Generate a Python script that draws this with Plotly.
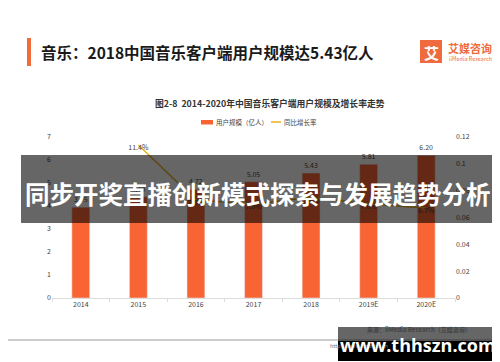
import plotly.graph_objects as go

categories = ["2014", "2015", "2016", "2017", "2018", "2019E", "2020E"]
users = [3.95, 4.40, 4.72, 5.05, 5.43, 5.81, 6.20]
growth = [None, 0.114, 0.073, 0.070, 0.075, 0.070, 0.067]
left_ticks = [0, 1, 2, 3, 4, 5, 6, 7]
right_ticks = [0, 0.02, 0.04, 0.06, 0.08, 0.1, 0.12]
series_names = ["用户规模（亿人）", "同比增长率"]

FONT = "Noto Sans CJK SC"
BAR_COLOR = "#f96434"
LINE_COLOR = "#e8b21e"
W, H = 500, 362
L, R, T, B = 44, 53, 129, 72
PW, PH = W - L - R, H - T - B


def px(x):
    return (x - L) / PW


def py(y):
    return (H - B - y) / PH


fig = go.Figure()
fig.add_trace(go.Bar(
    x=categories, y=users, name=series_names[0],
    marker_color=BAR_COLOR, width=0.31,
    text=[f"{v:.2f}" for v in users], textposition="outside",
    textfont=dict(size=7, color="#444", family=FONT), cliponaxis=False,
))
fig.add_trace(go.Scatter(
    x=categories, y=growth, name=series_names[1], yaxis="y2",
    mode="lines+text", line=dict(color=LINE_COLOR, width=1.5),
    text=[("" if g is None else f"{g*100:.1f}%") for g in growth],
    textposition="bottom center",
    textfont=dict(size=7, color="#444", family=FONT), cliponaxis=False,
))

shapes = [
    dict(type="rect", xref="paper", yref="paper", x0=px(19), x1=px(23), y0=py(30), y1=py(58),
         fillcolor="#f26b3a", line_width=0, layer="above"),
    dict(type="rect", xref="paper", yref="paper", x0=px(412), x1=px(434), y0=py(32), y1=py(55),
         fillcolor="#ef6a3c", line_width=0, layer="above"),
    # legend keys
    dict(type="rect", xref="paper", yref="paper", x0=px(193), x1=px(205), y0=py(112), y1=py(116.5),
         fillcolor=BAR_COLOR, line_width=0, layer="above"),
    dict(type="line", xref="paper", yref="paper", x0=px(263), x1=px(273), y0=py(114), y1=py(114),
         line=dict(color=LINE_COLOR, width=1.5), layer="above"),
    dict(type="line", xref="paper", yref="paper", x0=px(0), x1=px(500), y0=py(332), y1=py(332),
         line=dict(color="#bbbbbb", width=1.5), layer="above"),
    dict(type="rect", xref="paper", yref="paper", x0=px(13), x1=px(487), y0=py(147), y1=py(215),
         fillcolor="rgba(0,0,0,0.6)", line_width=0, layer="above"),
    dict(type="rect", xref="paper", yref="paper", x0=px(330), x1=px(491), y0=py(319), y1=py(333),
         fillcolor="rgba(0,0,0,0.6)", line_width=0, layer="above"),
    dict(type="rect", xref="paper", yref="paper", x0=px(330), x1=px(491), y0=py(333), y1=py(353),
         fillcolor="#000000", line_width=0, layer="above"),
]


def ann(text, x, y, size, color="#222", xanchor="left", bold=False, family=FONT):
    return dict(text=(f"<b>{text}</b>" if bold else text), x=px(x), y=py(y), xref="paper", yref="paper",
                xanchor=xanchor, yanchor="middle", showarrow=False,
                font=dict(size=size, color=color, family=family))


annotations = [
    ann("音乐：2018中国音乐客户端用户规模达5.43亿人", 31, 44, 15.5, "#1a1a1a", "left", True),
    ann("艾", 423, 44, 15, "white", "center", True),
    ann("艾媒咨询", 438, 40, 11, "#ef6a3c", "left", True),
    ann("iiMedia Research", 439, 51, 5.5, "#ef6a3c"),
    ann("图2-8  2014-2020年中国音乐客户端用户规模及增长率走势", 262, 95, 8.8, "#333", "center", True),
    ann(series_names[0], 206, 114, 6.5, "#444"),
    ann(series_names[1], 274, 114, 6.5, "#444"),
    ann("来源：iiMedia Research（艾媒咨询）", 411, 321, 6, "#444", "center", True),
    ann("http://www.iimedia.cn", 320, 338, 5.5, "#777"),
    ann("同步开奖直播创新模式探索与发展趋势分析", 250, 185, 24.5, "white", "center", True),
    ann("www.thhszn.com", 410, 337, 18, "white", "center", True, "Open Sans"),
]

fig.update_layout(
    width=W, height=H, margin=dict(l=L, r=R, t=T, b=B),
    paper_bgcolor="white", plot_bgcolor="white",
    font=dict(family=FONT, size=7, color="#444"),
    showlegend=False,
    bargap=0.69,
    xaxis=dict(type="category", showline=True, linecolor="#dddddd", ticks="outside",
               tickson="boundaries", ticklen=3, tickcolor="#dddddd", showgrid=False,
               tickfont=dict(size=7, color="#444")),
    yaxis=dict(range=[0, 7], tickvals=left_ticks, showgrid=False, zeroline=False,
               showline=False, tickfont=dict(size=7, color="#444")),
    yaxis2=dict(range=[0, 0.12], tickvals=right_ticks, overlaying="y", side="right",
                showgrid=False, zeroline=False, showline=False,
                ticktext=["0" if v == 0 else f"{v:g}" for v in right_ticks],
                tickfont=dict(size=7, color="#444")),
    shapes=shapes, annotations=annotations,
)

fig.write_html("out.html")
